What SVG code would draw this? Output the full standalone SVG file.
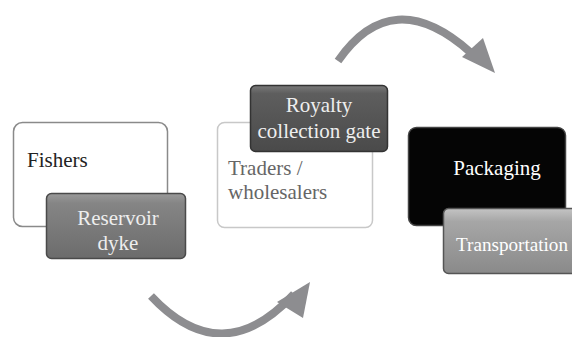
<svg xmlns="http://www.w3.org/2000/svg" width="572" height="337" viewBox="0 0 572 337">
<defs>
<linearGradient id="gRes" x1="0" y1="0" x2="0" y2="1"><stop offset="0" stop-color="#9a9a9a"/><stop offset="0.15" stop-color="#858585"/><stop offset="1" stop-color="#6c6c6c"/></linearGradient>
<linearGradient id="gRoy" x1="0" y1="0" x2="0" y2="1"><stop offset="0" stop-color="#7a7a7a"/><stop offset="0.12" stop-color="#5e5e5e"/><stop offset="1" stop-color="#4a4a4a"/></linearGradient>
<linearGradient id="gTra" x1="0" y1="0" x2="0" y2="1"><stop offset="0" stop-color="#c4c4c4"/><stop offset="0.2" stop-color="#a6a6a6"/><stop offset="1" stop-color="#8a8a8a"/></linearGradient>
</defs>
<style>
text{font-family:"Liberation Serif","Times New Roman",serif;font-size:21px}
.arrow{fill:none;stroke:#8d8d90;stroke-width:8}
.head{fill:#8d8d90}
</style>
<g id="connectors">
<path class="arrow" d="M151,296 Q222,372 294,294"/>
<polygon class="head" points="310,282 277,302 303,318"/>
<path class="arrow" d="M338,61 Q392,-17 470,52"/>
<polygon class="head" points="495,73 462,57 483,38"/>
</g>
<g id="fishers">
<rect x="13.5" y="122.5" width="154" height="104" rx="9" fill="#fff" stroke="#8a8a8a" stroke-width="1.5"/>
<text x="27" y="167" fill="#222">Fishers</text>
</g>
<g id="reservoir">
<rect x="46.5" y="193.5" width="139" height="65" rx="5" fill="url(#gRes)" stroke="#4a4a4a" stroke-width="1.5"/>
<text x="118" y="225" fill="#eee" text-anchor="middle">Reservoir</text>
<text x="118" y="250" fill="#eee" text-anchor="middle">dyke</text>
</g>
<g id="traders">
<rect x="217.5" y="122.5" width="155" height="105" rx="7" fill="#fff" stroke="#c8c8c8" stroke-width="1.5"/>
<text x="228" y="175" fill="#666">Traders /</text>
<text x="228" y="199" fill="#666">wholesalers</text>
</g>
<g id="royalty">
<rect x="250.5" y="85.5" width="137" height="66" rx="5" fill="url(#gRoy)" stroke="#333" stroke-width="1.5"/>
<text x="319" y="112" fill="#eee" text-anchor="middle">Royalty</text>
<text x="319" y="138" fill="#eee" text-anchor="middle">collection gate</text>
</g>
<g id="packaging">
<rect x="408.5" y="127.5" width="157" height="98" rx="8" fill="#050505" stroke="#444" stroke-width="1.5"/>
<text x="497" y="175" fill="#fff" text-anchor="middle">Packaging</text>
</g>
<g id="transportation">
<rect x="443.5" y="208.5" width="140" height="65" rx="5" fill="url(#gTra)" stroke="#555" stroke-width="1.5"/>
<text x="456" y="251" fill="#fff" style="font-size:19px" textLength="112" lengthAdjust="spacingAndGlyphs">Transportation</text>
</g>
</svg>
